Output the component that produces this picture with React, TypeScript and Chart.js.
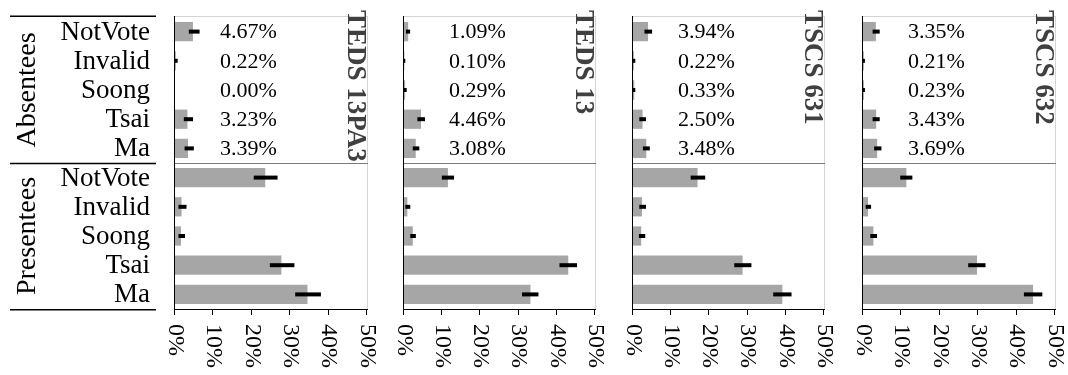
import React, { useEffect, useRef } from 'react';
import { Chart, registerables } from 'chart.js';
Chart.register(...registerables);

const W = 1068;
const H = 375;

const rowLabels = ['NotVote', 'Invalid', 'Soong', 'Tsai', 'Ma', 'NotVote', 'Invalid', 'Soong', 'Tsai', 'Ma'];
const groupLabels = ['Absentees', 'Presentees'];
const xTickValues = [0, 10, 20, 30, 40, 50];
const xTickLabels = ['0%', '10%', '20%', '30%', '40%', '50%'];
const panelTitles = ['TEDS 13PA3', 'TEDS 13', 'TSCS 631', 'TSCS 632'];

const teds13pa3Values = [4.67, 0.22, 0.0, 3.23, 3.39, 23.5, 1.7, 1.55, 27.7, 34.5];
const teds13pa3Low = [3.6, 0, 0, 2.3, 2.5, 20.5, 0.9, 0.9, 24.7, 31.3];
const teds13pa3High = [6.4, 0.7, 0, 4.7, 4.9, 26.7, 3.0, 2.6, 31.1, 38.0];

const teds13Values = [1.09, 0.1, 0.29, 4.46, 3.08, 11.5, 0.87, 2.3, 43.0, 33.1];
const teds13Low = [0.5, 0, 0, 3.5, 2.3, 9.9, 0.35, 1.65, 40.7, 30.9];
const teds13High = [1.6, 0.35, 0.7, 5.5, 4.0, 13.1, 1.65, 3.1, 45.3, 35.2];

const tscs631Values = [3.94, 0.22, 0.33, 2.5, 3.48, 16.9, 2.35, 2.15, 28.7, 39.1];
const tscs631Low = [3.0, 0, 0, 1.65, 2.6, 15.1, 1.65, 1.55, 26.5, 36.7];
const tscs631High = [5.0, 0.6, 0.6, 3.4, 4.4, 18.9, 3.4, 3.2, 31.0, 41.5];

const tscs632Values = [3.35, 0.21, 0.23, 3.43, 3.69, 11.3, 1.3, 2.7, 29.7, 44.3];
const tscs632Low = [2.5, 0, 0, 2.5, 2.9, 9.7, 0.7, 1.9, 27.4, 41.9];
const tscs632High = [4.35, 0.5, 0.5, 4.35, 4.8, 12.85, 2.1, 3.65, 31.9, 46.7];

const panelValues = [teds13pa3Values, teds13Values, tscs631Values, tscs632Values];
const panelLow = [teds13pa3Low, teds13Low, tscs631Low, tscs632Low];
const panelHigh = [teds13pa3High, teds13High, tscs631High, tscs632High];

// layout (pixels)
const panelLeft = [175, 404, 633, 863];
const panelRight = [367, 595, 824, 1055];
const plotTop = 17;
const plotBottom = 309;

const SERIF = '"Liberation Serif", "DejaVu Serif", serif';

function makePlugin(idx: number) {
  return {
    id: 'panelDecor' + idx,
    afterDraw(chart: any) {
      const ctx = chart.ctx as CanvasRenderingContext2D;
      const { left, right, top, bottom } = chart.chartArea;
      const xs = chart.scales.x;
      const ys = chart.scales.y;
      const lo = panelLow[idx];
      const hi = panelHigh[idx];
      const vals = panelValues[idx];
      ctx.save();

      // error bars
      ctx.fillStyle = '#000';
      for (let i = 0; i < vals.length; i++) {
        if (hi[i] <= lo[i]) continue;
        const x1 = xs.getPixelForValue(lo[i]);
        const x2 = xs.getPixelForValue(hi[i]);
        const yc = ys.getPixelForValue(i);
        ctx.fillRect(x1, yc - 2, x2 - x1, 4);
      }

      // frame: top & right light gray
      ctx.lineWidth = 1;
      ctx.strokeStyle = '#d4d4d4';
      ctx.beginPath();
      ctx.moveTo(left, top - 0.5);
      ctx.lineTo(right + 1, top - 0.5);
      ctx.moveTo(right + 0.5, top - 1);
      ctx.lineTo(right + 0.5, bottom);
      ctx.stroke();

      // divider
      const yMid = Math.round((ys.getPixelForValue(4) + ys.getPixelForValue(5)) / 2) + 0.5;
      ctx.strokeStyle = '#7a7a7a';
      ctx.beginPath();
      ctx.moveTo(left, yMid);
      ctx.lineTo(right + 1, yMid);
      ctx.stroke();

      // axes
      ctx.strokeStyle = '#000';
      ctx.beginPath();
      ctx.moveTo(left - 0.5, top - 1);
      ctx.lineTo(left - 0.5, bottom + 6);
      ctx.moveTo(left - 1, bottom + 0.5);
      ctx.lineTo(right + 1, bottom + 0.5);
      for (const v of xTickValues) {
        const px = Math.round(xs.getPixelForValue(v)) - 0.5;
        ctx.moveTo(px, bottom);
        ctx.lineTo(px, bottom + 6);
      }
      ctx.stroke();

      // x tick labels, rotated clockwise
      ctx.fillStyle = '#000';
      ctx.font = `24px ${SERIF}`;
      ctx.textAlign = 'left';
      ctx.textBaseline = 'middle';
      xTickValues.forEach((v, k) => {
        const px = xs.getPixelForValue(v);
        ctx.save();
        ctx.translate(px, bottom + 15);
        ctx.rotate(Math.PI / 2);
        ctx.fillText(xTickLabels[k], 0, 0);
        ctx.restore();
      });

      // percentage labels for absentees
      ctx.font = `22px ${SERIF}`;
      ctx.textAlign = 'left';
      ctx.textBaseline = 'middle';
      for (let i = 0; i < 5; i++) {
        ctx.fillText(vals[i].toFixed(2) + '%', left + 45, ys.getPixelForValue(i) + 1);
      }

      // panel title, rotated clockwise
      ctx.save();
      ctx.fillStyle = '#404040';
      ctx.font = `bold 27px ${SERIF}`;
      ctx.textAlign = 'left';
      ctx.textBaseline = 'alphabetic';
      ctx.translate(right - 19, top - 7);
      ctx.rotate(Math.PI / 2);
      ctx.fillText(panelTitles[idx], 0, 0);
      ctx.restore();

      if (idx === 0) {
        // category labels
        ctx.fillStyle = '#000';
        ctx.font = `27px ${SERIF}`;
        ctx.textAlign = 'right';
        ctx.textBaseline = 'middle';
        rowLabels.forEach((lab, i) => {
          ctx.fillText(lab, 150, ys.getPixelForValue(i) + 1);
        });
        // group labels
        ctx.font = `28px ${SERIF}`;
        ctx.textAlign = 'center';
        [0, 5].forEach((start, g) => {
          const yc = (ys.getPixelForValue(start) + ys.getPixelForValue(start + 4)) / 2;
          ctx.save();
          ctx.translate(28, yc);
          ctx.rotate(-Math.PI / 2);
          ctx.fillText(groupLabels[g], 0, 0);
          ctx.restore();
        });
        // left rules
        ctx.strokeStyle = '#000';
        ctx.lineWidth = 1.5;
        ctx.beginPath();
        [top - 0.75, yMid, bottom + 0.75].forEach((yy) => {
          ctx.moveTo(10, yy);
          ctx.lineTo(156, yy);
        });
        ctx.stroke();
      }
      ctx.restore();
    },
  };
}

function Panel({ idx }: { idx: number }) {
  const ref = useRef<HTMLCanvasElement>(null);
  useEffect(() => {
    const chart = new Chart(ref.current as HTMLCanvasElement, {
      type: 'bar',
      data: {
        labels: rowLabels,
        datasets: [
          {
            data: panelValues[idx],
            backgroundColor: '#a6a6a6',
            borderWidth: 0,
            barPercentage: 0.66,
            categoryPercentage: 1,
          },
        ],
      },
      options: {
        indexAxis: 'y',
        responsive: false,
        animation: false,
        devicePixelRatio: 1,
        layout: {
          padding: {
            left: panelLeft[idx],
            right: W - panelRight[idx],
            top: plotTop,
            bottom: H - plotBottom,
          },
        },
        scales: {
          x: { type: 'linear', min: 0, max: 50, display: false },
          y: { type: 'category', display: false },
        },
        plugins: {
          legend: { display: false },
          tooltip: { enabled: false },
        },
      },
      plugins: [makePlugin(idx)],
    } as any);
    return () => chart.destroy();
  }, [idx]);
  return (
    <canvas
      ref={ref}
      width={W}
      height={H}
      style={{ position: 'absolute', left: 0, top: 0, width: W, height: H }}
    />
  );
}

export default function App() {
  return (
    <div style={{ position: 'absolute', left: 0, top: 0, width: W, height: H, background: '#fff' }}>
      {[0, 1, 2, 3].map((i) => (
        <Panel key={i} idx={i} />
      ))}
    </div>
  );
}
